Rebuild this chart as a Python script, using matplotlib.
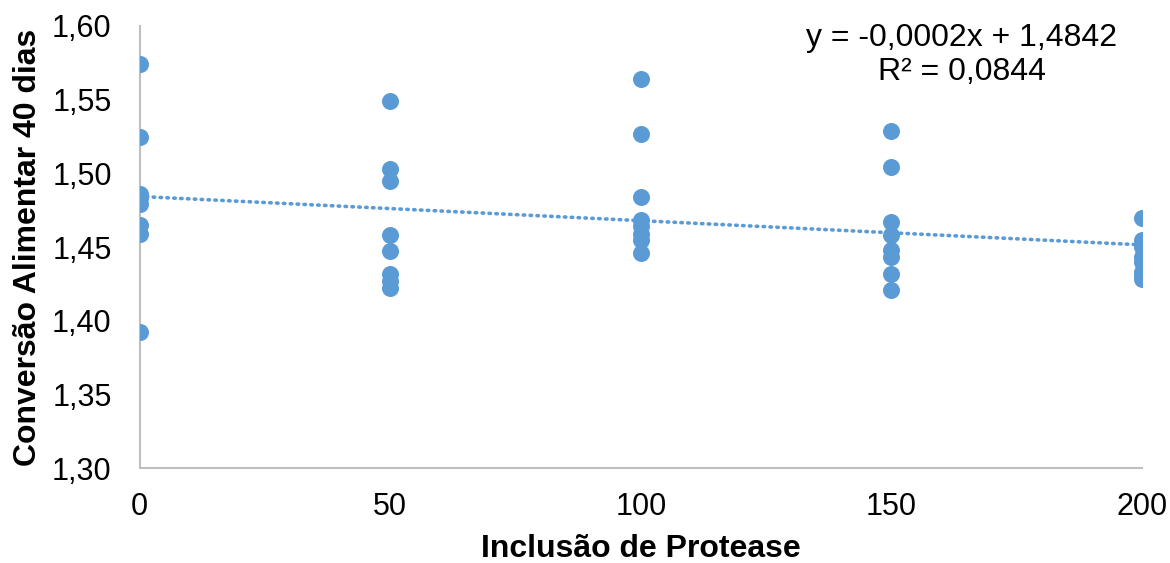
"""
Conversão alimentar aos 40 dias vs inclusão de protease, with linear trendline.
"""
import matplotlib
matplotlib.use("Agg")
import matplotlib.pyplot as plt
import numpy as np

plt.rcParams["font.family"] = ["Liberation Sans", "DejaVu Sans"]

BLUE = "#5B9BD5"

# inclusion levels and the eight observations read at each level
levels = [0, 50, 100, 150, 200]
conv_0 = [1.574, 1.525, 1.486, 1.483, 1.479, 1.465, 1.459, 1.392]
conv_50 = [1.549, 1.503, 1.495, 1.458, 1.447, 1.432, 1.427, 1.422]
conv_100 = [1.564, 1.527, 1.484, 1.468, 1.464, 1.459, 1.455, 1.446]
conv_150 = [1.529, 1.504, 1.467, 1.458, 1.448, 1.443, 1.432, 1.421]
conv_200 = [1.470, 1.455, 1.450, 1.443, 1.440, 1.433, 1.431, 1.428]

y_ticks = [1.30, 1.35, 1.40, 1.45, 1.50, 1.55, 1.60]
y_tick_labels = ["1,30", "1,35", "1,40", "1,45", "1,50", "1,55", "1,60"]
eq_text = "y = -0,0002x + 1,4842\nR² = 0,0844"

groups = [conv_0, conv_50, conv_100, conv_150, conv_200]
x = np.concatenate([[lv] * len(g) for lv, g in zip(levels, groups)])
y = np.concatenate(groups)

fig = plt.figure(figsize=(11.7, 5.63), dpi=100)
ax = fig.add_axes([139.5 / 1170, 1 - 468 / 563, (1142 - 139.5) / 1170, (468 - 26) / 563])

ax.scatter(x, y, s=150, color=BLUE, zorder=3, linewidths=0)

slope, intercept = np.polyfit(x, y, 1)
xs = np.array([levels[0], levels[-1]])
ax.plot(xs, slope * xs + intercept, color=BLUE, linewidth=2.6,
        linestyle=(0, (0.4, 1.5)), dash_capstyle="round", zorder=2)

ax.set_xlim(0, 200)
ax.set_ylim(1.30, 1.60)
ax.set_xticks(levels)
ax.set_xticklabels([str(v) for v in levels])
ax.set_yticks(y_ticks)
ax.set_yticklabels(y_tick_labels)
ax.tick_params(axis="both", length=0, labelsize=22, colors="black")
ax.tick_params(axis="x", pad=17)
ax.tick_params(axis="y", pad=20)

for side in ["top", "right"]:
    ax.spines[side].set_visible(False)
for side in ["left", "bottom"]:
    ax.spines[side].set_color("#BFBFBF")
    ax.spines[side].set_linewidth(1.5)

ax.set_xlabel("Inclusão de Protease", fontsize=23, fontweight="bold", va="center")
ax.set_ylabel("Conversão Alimentar 40 dias", fontsize=23, fontweight="bold", va="center")
ax.xaxis.set_label_coords(0.5, (468 - 549) / 442)
ax.yaxis.set_label_coords((28 - 139.5) / 1002.5, 0.5)

fig.text(962 / 1170, 1 - 55 / 563, eq_text, ha="center", va="center",
         fontsize=23, linespacing=1.2)

fig.savefig("out.png", dpi=100)
